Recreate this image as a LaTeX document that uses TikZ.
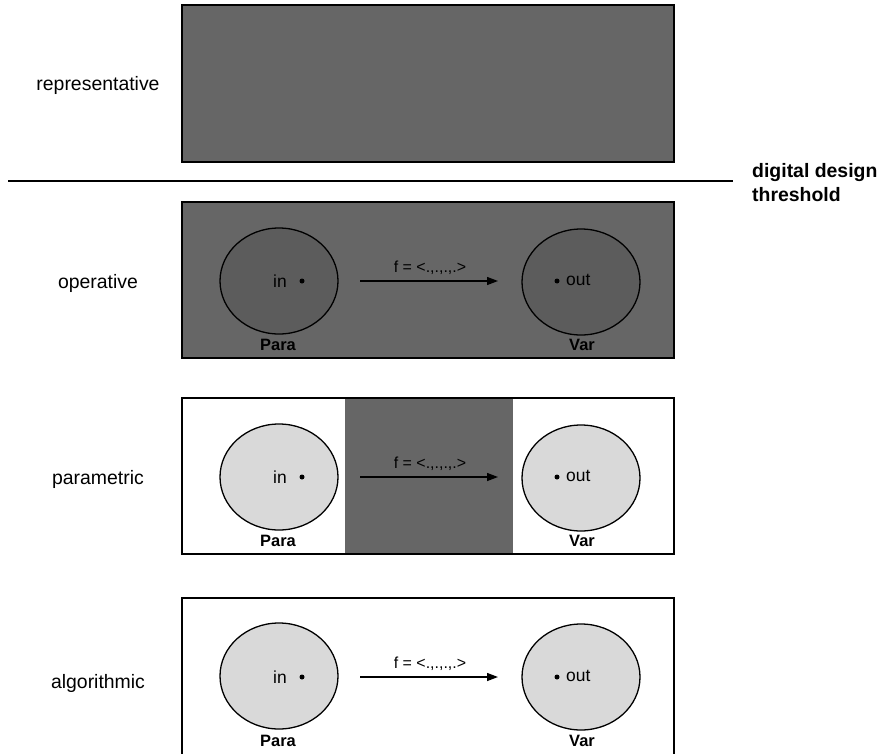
\documentclass[tikz,border=0pt]{standalone}
\usepackage{fontspec}
\setmainfont{Liberation Sans}
\usetikzlibrary{shapes.geometric,arrows.meta}
\definecolor{darkfill}{HTML}{666666}
\definecolor{darkell}{HTML}{5C5C5C}
\definecolor{lightell}{HTML}{D9D9D9}
\tikzset{
  rowbox/.style={draw=black,line width=2bp},
  rowlabel/.style={font=\fontsize{19.5}{22}\selectfont,inner sep=0pt},
  setell/.style={draw=black,line width=1.3bp,ellipse,minimum width=118bp,minimum height=106bp,inner sep=0pt},
  small/.style={font=\fontsize{17.5}{18}\selectfont,inner sep=0pt},
  flabel/.style={font=\fontsize{16}{18}\selectfont,inner sep=0pt},
  boldsmall/.style={font=\fontsize{16.5}{18}\selectfont\bfseries,inner sep=0pt},
  fnarrow/.style={line width=1.3bp,-{Triangle[length=11bp,width=8bp]}},
  pt/.style={circle,fill=black,inner sep=0pt,minimum size=5bp}
}
\begin{document}
\begin{tikzpicture}[x=1bp,y=-1bp]
\useasboundingbox (0,0) rectangle (885,754);
% representative
\draw[rowbox,fill=darkfill] (182,5) rectangle (674,162);
\node[rowlabel] (lrep) at (98,85) {representative};
% threshold
\coordinate (thA) at (8,181);
\coordinate (thB) at (733,181);
\draw[line width=2bp] (thA) -- (thB);
\node[anchor=west,align=left,font=\fontsize{19.5}{24}\selectfont\bfseries,inner sep=0pt] (thr) at (752,183) {digital design\\threshold};
% rows
\foreach \name/\top/\kind in {op/202/0,pa/398/1,al/598/2}{
  \ifcase\kind
    \draw[rowbox,fill=darkfill] (182,\top) rectangle (674,\top+156);
    \node[setell,fill=darkell] (\name L) at (279,\top+79) {};
    \node[setell,fill=darkell] (\name R) at (581,\top+80) {};
  \or
    \draw[rowbox,fill=white] (182,\top) rectangle (674,\top+156);
    \fill[darkfill] (345,\top+1) rectangle (513,\top+155);
    \node[setell,fill=lightell] (\name L) at (279,\top+79) {};
    \node[setell,fill=lightell] (\name R) at (581,\top+80) {};
  \or
    \draw[rowbox,fill=white] (182,\top) rectangle (674,\top+160);
    \node[setell,fill=lightell] (\name L) at (279,\top+78) {};
    \node[setell,fill=lightell] (\name R) at (581,\top+79) {};
  \fi
  \node[small] (\name in) at (280,\top+79) {in};
  \node[pt] (\name pin) at (302,\top+79) {};
  \node[pt] (\name pout) at (557,\top+79) {};
  \node[small,anchor=west] (\name out) at (566,\top+78) {out};
  \node[boldsmall] (\name para) at (278,\top+143) {Para};
  \node[boldsmall] (\name var) at (582,\top+143) {Var};
  \coordinate (\name A) at (360,\top+79);
  \coordinate (\name B) at (498,\top+79);
  \draw[fnarrow] (\name A) -- (\name B);
  \node[flabel] (\name f) at (430,\top+66) {f = <.,.,.,.>};
}
\node[rowlabel] (lop) at (98,283) {operative};
\node[rowlabel] (lpa) at (98,479) {parametric};
\node[rowlabel] (lal) at (98,683) {algorithmic};
\end{tikzpicture}
\end{document}
